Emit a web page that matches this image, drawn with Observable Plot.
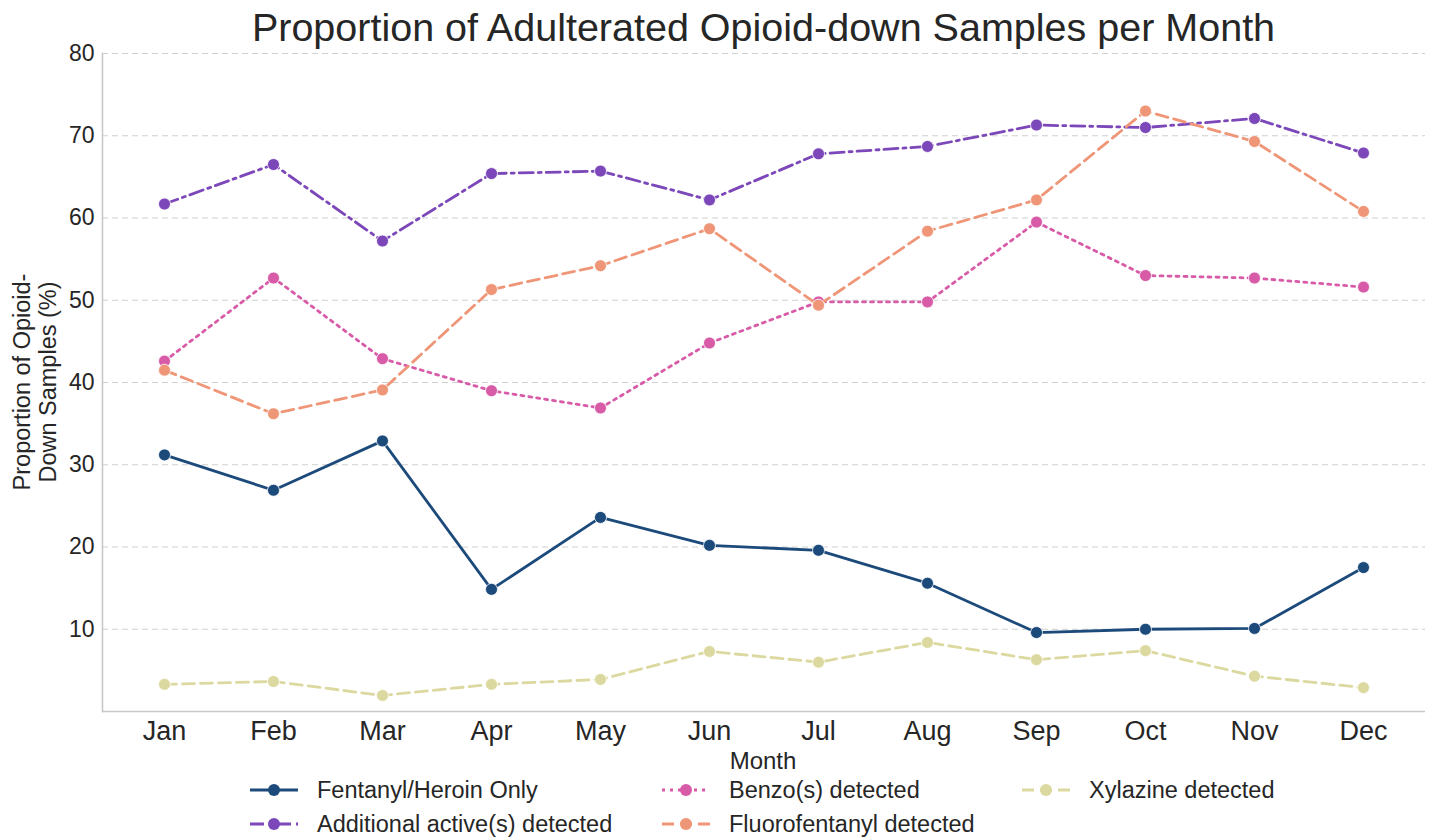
<!DOCTYPE html>
<html>
<head>
<meta charset="utf-8">
<script src="https://cdn.jsdelivr.net/npm/d3@7"></script>
<script src="https://cdn.jsdelivr.net/npm/@observablehq/plot@0.6"></script>
<style>
  body { margin: 0; background: white; font-family: "Liberation Sans", Arial, sans-serif; }
  #wrap { position: relative; width: 1431px; height: 838px; overflow: hidden; }
  #title { position: absolute; left: 102px; width: 1323px; top: 5px; text-align: center; font-size: 39.5px; color: #262626; }
  #chart { position: absolute; left: 0; top: 0; }
  .leg { position: absolute; font-size: 23.5px; color: #262626; display: flex; align-items: center; height: 30px; }
  .leg svg { margin-right: 19px; }
</style>
</head>
<body>
<div id="wrap">
  <div id="chart"></div>
  <div id="title">Proportion of Adulterated Opioid-down Samples per Month</div>
  <div id="legend"></div>
</div>
<script>
const months = ["Jan","Feb","Mar","Apr","May","Jun","Jul","Aug","Sep","Oct","Nov","Dec"];
const seriesNames = ["Fentanyl/Heroin Only","Additional active(s) detected","Benzo(s) detected","Fluorofentanyl detected","Xylazine detected"];
const fentanyl = [31.2, 26.9, 32.9, 14.85, 23.6, 20.2, 19.6, 15.6, 9.6, 10.0, 10.1, 17.5];
const additional = [61.7, 66.5, 57.2, 65.4, 65.7, 62.2, 67.8, 68.7, 71.3, 71.0, 72.1, 67.9];
const benzo = [42.6, 52.7, 42.9, 39.0, 36.9, 44.8, 49.8, 49.8, 59.5, 53.0, 52.7, 51.6];
const fluoro = [41.5, 36.2, 39.1, 51.3, 54.2, 58.7, 49.4, 58.4, 62.2, 73.0, 69.3, 60.8];
const xylazine = [3.3, 3.65, 1.95, 3.3, 3.9, 7.3, 6.0, 8.4, 6.3, 7.4, 4.3, 2.9];
const yTicks = [10, 20, 30, 40, 50, 60, 70, 80];

const colors = ["#1c4a7b", "#7b47b9", "#d85ba8", "#ee9677", "#dcd9a0"];
const dashes = [null, "14,5,3,5", "3,5", "12,6", "12,6"];
const allValues = [fentanyl, additional, benzo, fluoro, xylazine];

const series = seriesNames.map((name, i) => ({
  name, color: colors[i], dash: dashes[i],
  data: months.map((m, j) => ({month: m, value: allValues[i][j]}))
}));

const marks = [
  Plot.gridY(yTicks, {stroke: "#d0d0d0", strokeOpacity: 1, strokeWidth: 1.2, strokeDasharray: "6,4"}),
  Plot.axisY(yTicks, {tickSize: 0, tickPadding: 8, fontSize: 23, fill: "#262626", label: null}),
  Plot.axisX({tickSize: 0, tickPadding: 9, fontSize: 27, fill: "#262626", label: null}),
  Plot.frame({anchor: "left", stroke: "#c8c8c8", strokeWidth: 1.6}),
  Plot.ruleY([0], {stroke: "#c8c8c8", strokeWidth: 1.6}),
];
for (const s of series) {
  marks.push(Plot.line(s.data, {x: "month", y: "value", stroke: s.color, strokeWidth: 2.8, strokeDasharray: s.dash}));
  marks.push(Plot.dot(s.data, {x: "month", y: "value", fill: s.color, r: 6, stroke: "white", strokeWidth: 0.8}));
}

const chart = Plot.plot({
  width: 1431,
  height: 775,
  marginLeft: 102,
  marginRight: 6,
  marginTop: 53,
  marginBottom: 64,
  style: {background: "transparent", fontFamily: "Liberation Sans, Arial, sans-serif", overflow: "visible"},
  x: {type: "point", domain: months, padding: 0.55},
  y: {domain: [0, 80]},
  marks
});
document.getElementById("chart").appendChild(chart);

// Axis titles
const svg = d3.select(chart);
svg.append("text").attr("x", 763).attr("y", 769).attr("text-anchor", "middle")
  .attr("font-size", 24).attr("fill", "#262626").text("Month");
const yl = svg.append("text").attr("transform", "translate(0,382) rotate(-90)")
  .attr("text-anchor", "middle").attr("font-size", 23.5).attr("fill", "#262626");
yl.append("tspan").attr("x", 0).attr("y", 30).text("Proportion of Opioid-");
yl.append("tspan").attr("x", 0).attr("y", 56).text("Down Samples (%)");

// Legend
const legPos = [
  {left: 250, top: 775}, {left: 250, top: 809},
  {left: 662, top: 775}, {left: 662, top: 809},
  {left: 1022, top: 775}
];
const legendEl = document.getElementById("legend");
const posMap = {0: legPos[0], 1: legPos[1], 2: legPos[2], 3: legPos[3], 4: legPos[4]};
series.forEach((s, i) => {
  const p = posMap[i];
  const div = document.createElement("div");
  div.className = "leg";
  div.style.left = p.left + "px";
  div.style.top = p.top + "px";
  div.innerHTML = `<svg width="48" height="14"><line x1="0" x2="48" y1="7" y2="7" stroke="${s.color}" stroke-width="2.8" ${s.dash ? `stroke-dasharray="${s.dash}"` : ""}/><circle cx="24" cy="7" r="6" fill="${s.color}"/></svg><span>${s.name}</span>`;
  legendEl.appendChild(div);
});
</script>
</body>
</html>
